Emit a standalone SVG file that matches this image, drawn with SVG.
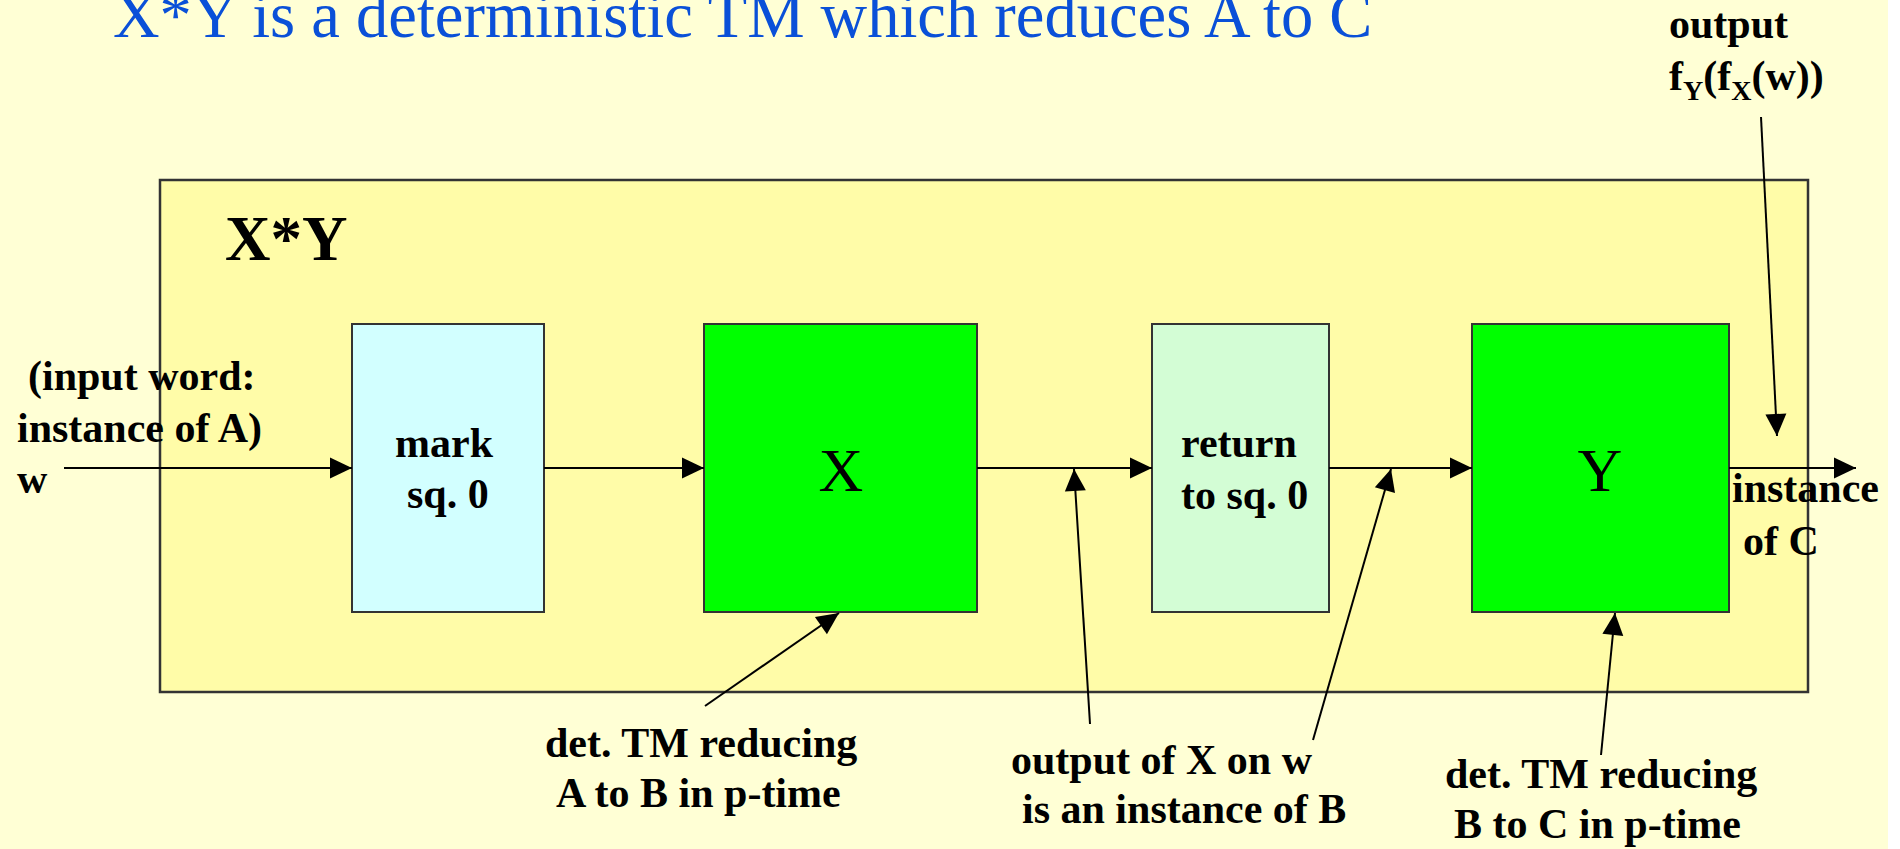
<svg xmlns="http://www.w3.org/2000/svg" width="1900" height="849" viewBox="0 0 1900 849">
<defs>
<marker id="ah" markerUnits="userSpaceOnUse" markerWidth="24" markerHeight="24" viewBox="0 0 24 24" refX="23" refY="12" orient="auto">
<path d="M1,1.5 L23,12 L1,22.5 Z" fill="#000"/>
</marker>
</defs>
<style>
.lbl{font-family:"Liberation Serif","Times New Roman",serif;font-weight:bold;font-size:42px;fill:#000}
.big{font-family:"Liberation Serif","Times New Roman",serif;font-size:62px;fill:#000}
.title{font-family:"Liberation Serif","Times New Roman",serif;font-size:64.5px;fill:#0A50D8}
.box{stroke:#333;stroke-width:2}
.conn{stroke:#000;stroke-width:2;fill:none;marker-end:url(#ah)}
</style>
<rect x="0" y="0" width="1888" height="849" fill="#FFFFD5"/>
<rect x="1888" y="0" width="12" height="849" fill="#FFFFFF"/>
<text class="title" x="113" y="37">X*Y is a deterministic TM which reduces A to C</text>
<g id="outer">
<rect x="160" y="180" width="1648" height="512" fill="#FFFCA8" stroke="#333" stroke-width="2.5"/>
<text class="lbl" x="225" y="260" style="font-size:63px">X*Y</text>
</g>
<g id="mark">
<rect class="box" x="352" y="324" width="192" height="288" fill="#D2FFFF"/>
<text class="lbl" x="395" y="457">mark</text>
<text class="lbl" x="407" y="508">sq. 0</text>
</g>
<g id="X">
<rect class="box" x="704" y="324" width="273" height="288" fill="#00FF00"/>
<text class="big" x="841" y="491" text-anchor="middle">X</text>
</g>
<g id="return">
<rect class="box" x="1152" y="324" width="177" height="288" fill="#D3FDD5"/>
<text class="lbl" x="1181" y="457">return</text>
<text class="lbl" x="1181" y="509">to sq. 0</text>
</g>
<g id="Y">
<rect class="box" x="1472" y="324" width="257" height="288" fill="#00FF00"/>
<text class="big" x="1600" y="491" text-anchor="middle">Y</text>
</g>
<g id="input-label">
<text class="lbl" x="28" y="390">(input word:</text>
<text class="lbl" x="17" y="442">instance of A)</text>
<text class="lbl" x="17" y="493">w</text>
</g>
<g id="output-label">
<text class="lbl" x="1669" y="38">output</text>
<text class="lbl" x="1669" y="90">f<tspan font-size="28" dy="10">Y</tspan><tspan dy="-10">(f</tspan><tspan font-size="28" dy="10">X</tspan><tspan dy="-10">(w))</tspan></text>
</g>
<g id="instC-label">
<text class="lbl" x="1732" y="502">instance</text>
<text class="lbl" x="1743" y="555">of C</text>
</g>
<g id="note-X">
<text class="lbl" x="545" y="757">det. TM reducing</text>
<text class="lbl" x="556" y="807">A to B in p-time</text>
</g>
<g id="note-B">
<text class="lbl" x="1011" y="774">output of X on w</text>
<text class="lbl" x="1022" y="823">is an instance of B</text>
</g>
<g id="note-Y">
<text class="lbl" x="1445" y="788">det. TM reducing</text>
<text class="lbl" x="1454" y="838">B to C in p-time</text>
</g>
<g id="connectors">
<line class="conn" x1="64" y1="468" x2="352" y2="468"/>
<line class="conn" x1="544" y1="468" x2="704" y2="468"/>
<line class="conn" x1="977" y1="468" x2="1152" y2="468"/>
<line class="conn" x1="1329" y1="468" x2="1472" y2="468"/>
<line class="conn" x1="1729" y1="468" x2="1856" y2="468"/>
<line class="conn" x1="1761" y1="117" x2="1777" y2="436"/>
<line class="conn" x1="705" y1="706" x2="839" y2="613"/>
<line class="conn" x1="1090" y1="724" x2="1074" y2="469"/>
<line class="conn" x1="1313" y1="740" x2="1391" y2="469"/>
<line class="conn" x1="1601" y1="755" x2="1615" y2="613"/>
</g>
</svg>
